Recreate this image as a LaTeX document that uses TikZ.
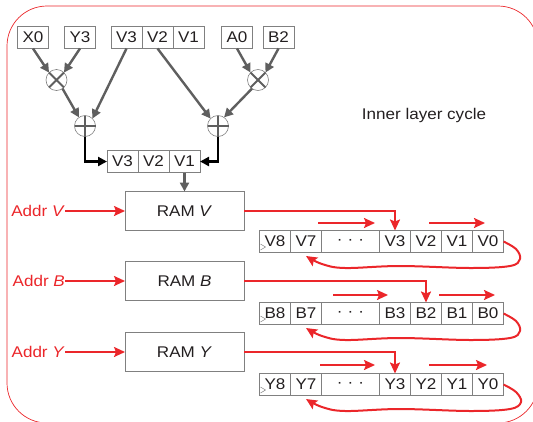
\documentclass[tikz,border=0pt]{standalone}
\usepackage{fontspec}
\setmainfont{Liberation Sans}[FakeStretch=1.1]
\usepackage{tikz}
\usetikzlibrary{positioning, calc, arrows.meta}

\definecolor{linered}{RGB}{235,38,42}
\definecolor{arrowgray}{RGB}{95,95,95}
\definecolor{boxgray}{RGB}{128,128,128}
\definecolor{textdark}{RGB}{35,31,32}

\tikzset{
    cell/.style={draw=boxgray, line width=0.8pt, minimum width=31pt, minimum height=22pt,
                 inner sep=0pt, outer sep=0pt, text=textdark},
    dotcell/.style={cell, minimum width=58pt},
    rambox/.style={draw=boxgray, line width=0.9pt, minimum width=119pt, minimum height=39pt,
                   inner sep=0pt, outer sep=0pt, text=textdark},
    opcircle/.style={circle, draw=boxgray, line width=0.6pt, minimum size=21pt, inner sep=0pt, outer sep=0pt},
    dataarrow/.style={draw=arrowgray, line width=2.4pt, -{Triangle[length=9pt,width=9pt]}},
    sumarrow/.style={draw=black, line width=2.4pt, -{Triangle[length=9pt,width=9pt]}},
    ctrl/.style={draw=linered, line width=2pt, -{Stealth[length=11pt,width=10pt,inset=2pt]}},
    addrlabel/.style={text=linered, inner sep=0pt, anchor=east},
}

\begin{document}
\begin{tikzpicture}[x=1pt, y=-1pt, font=\fontsize{15.5}{18}\selectfont]

        \useasboundingbox (0,0) rectangle (533,421);
        \clip (0,0) rectangle (533,421);

        % ==========================================
        % Outer frame
        % ==========================================
        \draw[linered, line width=0.7pt, rounded corners=40pt] (7,6) rectangle (538,423);
        \node[text=textdark] (cycle) at (424,115) {Inner layer cycle};

        % ==========================================
        % Top operands
        % ==========================================
        \node[cell] (x0) at (33,37.5) {X0};
        \node[cell] (y3) at (80,37.5) {Y3};
        \node[cell] (tv3) at (126.5,37.5) {V3};
        \node[cell, right=0pt of tv3] (tv2) {V2};
        \node[cell, right=0pt of tv2] (tv1) {V1};
        \node[cell] (a0) at (237,37.5) {A0};
        \node[cell] (b2) at (278.5,37.5) {B2};

        % ==========================================
        % Multipliers and adders
        % ==========================================
        \node[opcircle] (mulL) at (56.5,80) {};
        \node[opcircle] (mulR) at (258,80) {};
        \node[opcircle] (addL) at (85,126) {};
        \node[opcircle] (addR) at (218,126) {};

        % Signs inside the circles
        \draw[arrowgray, line width=2pt] (mulL.135) -- (mulL.-45) (mulL.45) -- (mulL.-135);
        \draw[arrowgray, line width=2pt] (mulR.135) -- (mulR.-45) (mulR.45) -- (mulR.-135);
        \draw[arrowgray, line width=1.2pt] (addL.west) -- (addL.east) (addR.west) -- (addR.east);
        \draw[arrowgray, line width=2pt] (addL.north) -- (addL.south) (addR.north) -- (addR.south);

        % Operand paths
        \draw[dataarrow] (x0.south) -- (mulL.135);
        \draw[dataarrow] (y3.south) -- (mulL.45);
        \draw[dataarrow] (mulL.-55) -- (addL.125);
        \draw[dataarrow] (tv3.south) -- (addL.45);
        \draw[dataarrow] (tv2.south) -- (addR.135);
        \draw[dataarrow] (a0.south) -- (mulR.135);
        \draw[dataarrow] (b2.south) -- (mulR.45);
        \draw[dataarrow] (mulR.-125) -- (addR.55);

        % ==========================================
        % New values register
        % ==========================================
        \node[cell] (m3) at (122.5,161.5) {V3};
        \node[cell, right=0pt of m3] (m2) {V2};
        \node[cell, right=0pt of m2] (m1) {V1};

        \draw[sumarrow] (addL.south) |- (m3.west);
        \draw[sumarrow] (addR.south) |- (m1.east);

        % ==========================================
        % RAM blocks and addresses
        % ==========================================
        \node[rambox] (ramV) at (184.5,211) {RAM \textit{V}};
        \node[rambox] (ramB) at (184.5,281) {RAM \textit{B}};
        \node[rambox] (ramY) at (184.5,352) {RAM \textit{Y}};

        \draw[dataarrow] (m1.south) -- (ramV.north);

        \node[addrlabel] (addrV) at (65,211) {Addr \textit{V}};
        \node[addrlabel] (addrB) at (65,281) {Addr \textit{B}};
        \node[addrlabel] (addrY) at (65,352) {Addr \textit{Y}};

        \draw[ctrl] (addrV.east) -- (ramV.west);
        \draw[ctrl] (addrB.east) -- (ramB.west);
        \draw[ctrl] (addrY.east) -- (ramY.west);

        % ==========================================
        % Shift register V
        % ==========================================
        \node[cell] (v8) at (275,241.5) {V8};
        \node[cell, right=0pt of v8] (v7) {V7};
        \node[dotcell, right=0pt of v7] (vdots) {·\hspace{5pt}·\hspace{5pt}·};
        \node[cell, right=0pt of vdots] (v3) {V3};
        \node[cell, right=0pt of v3] (v2) {V2};
        \node[cell, right=0pt of v2] (v1) {V1};
        \node[cell, right=0pt of v1] (v0) {V0};
        \draw[boxgray, line width=0.5pt] ($(v8.west)+(1,2.5)$) -- ++(5,3) -- ++(-5,3);

        \draw[ctrl] (ramV.east) -| (v3.north);
        \coordinate (vs1) at (318,223);
        \coordinate (vs2) at (429,223);
        \draw[ctrl] (vs1) -- ++(57,0);
        \draw[ctrl] (vs2) -- ++(56,0);
        \draw[ctrl] plot[smooth, tension=0.6] coordinates {(v0.east) (516,249) (520,259) (510,266)
              (470,268) (400,266) (345,268) (322,264) (306,256)};

        % ==========================================
        % Shift register B
        % ==========================================
        \node[cell] (b8) at (275,313.5) {B8};
        \node[cell, right=0pt of b8] (b7) {B7};
        \node[dotcell, right=0pt of b7] (bdots) {·\hspace{5pt}·\hspace{5pt}·};
        \node[cell, right=0pt of bdots] (b3) {B3};
        \node[cell, right=0pt of b3] (bb2) {B2};
        \node[cell, right=0pt of bb2] (b1) {B1};
        \node[cell, right=0pt of b1] (b0) {B0};
        \draw[boxgray, line width=0.5pt] ($(b8.west)+(1,2.5)$) -- ++(5,3) -- ++(-5,3);

        \draw[ctrl] (ramB.east) -| (bb2.north);
        \coordinate (bs1) at (333,295);
        \coordinate (bs2) at (439,295);
        \draw[ctrl] (bs1) -- ++(55,0);
        \draw[ctrl] (bs2) -- ++(56,0);
        \draw[ctrl] plot[smooth, tension=0.6] coordinates {(b0.east) (516,321) (520,331) (510,338)
              (470,340) (400,338) (345,340) (322,336) (306,328)};

        % ==========================================
        % Shift register Y
        % ==========================================
        \node[cell] (y8) at (275,384.5) {Y8};
        \node[cell, right=0pt of y8] (y7) {Y7};
        \node[dotcell, right=0pt of y7] (ydots) {·\hspace{5pt}·\hspace{5pt}·};
        \node[cell, right=0pt of ydots] (yy3) {Y3};
        \node[cell, right=0pt of yy3] (y2) {Y2};
        \node[cell, right=0pt of y2] (y1) {Y1};
        \node[cell, right=0pt of y1] (y0) {Y0};
        \draw[boxgray, line width=0.5pt] ($(y8.west)+(1,2.5)$) -- ++(5,3) -- ++(-5,3);

        \draw[ctrl] (ramY.east) -| (yy3.north);
        \coordinate (ys1) at (320,365);
        \coordinate (ys2) at (429,365);
        \draw[ctrl] (ys1) -- ++(55,0);
        \draw[ctrl] (ys2) -- ++(58,0);
        \draw[ctrl] plot[smooth, tension=0.6] coordinates {(y0.east) (516,392) (521,402) (510,409)
              (470,411) (400,409) (345,411) (322,407) (306,399)};

\end{tikzpicture}
\end{document}
